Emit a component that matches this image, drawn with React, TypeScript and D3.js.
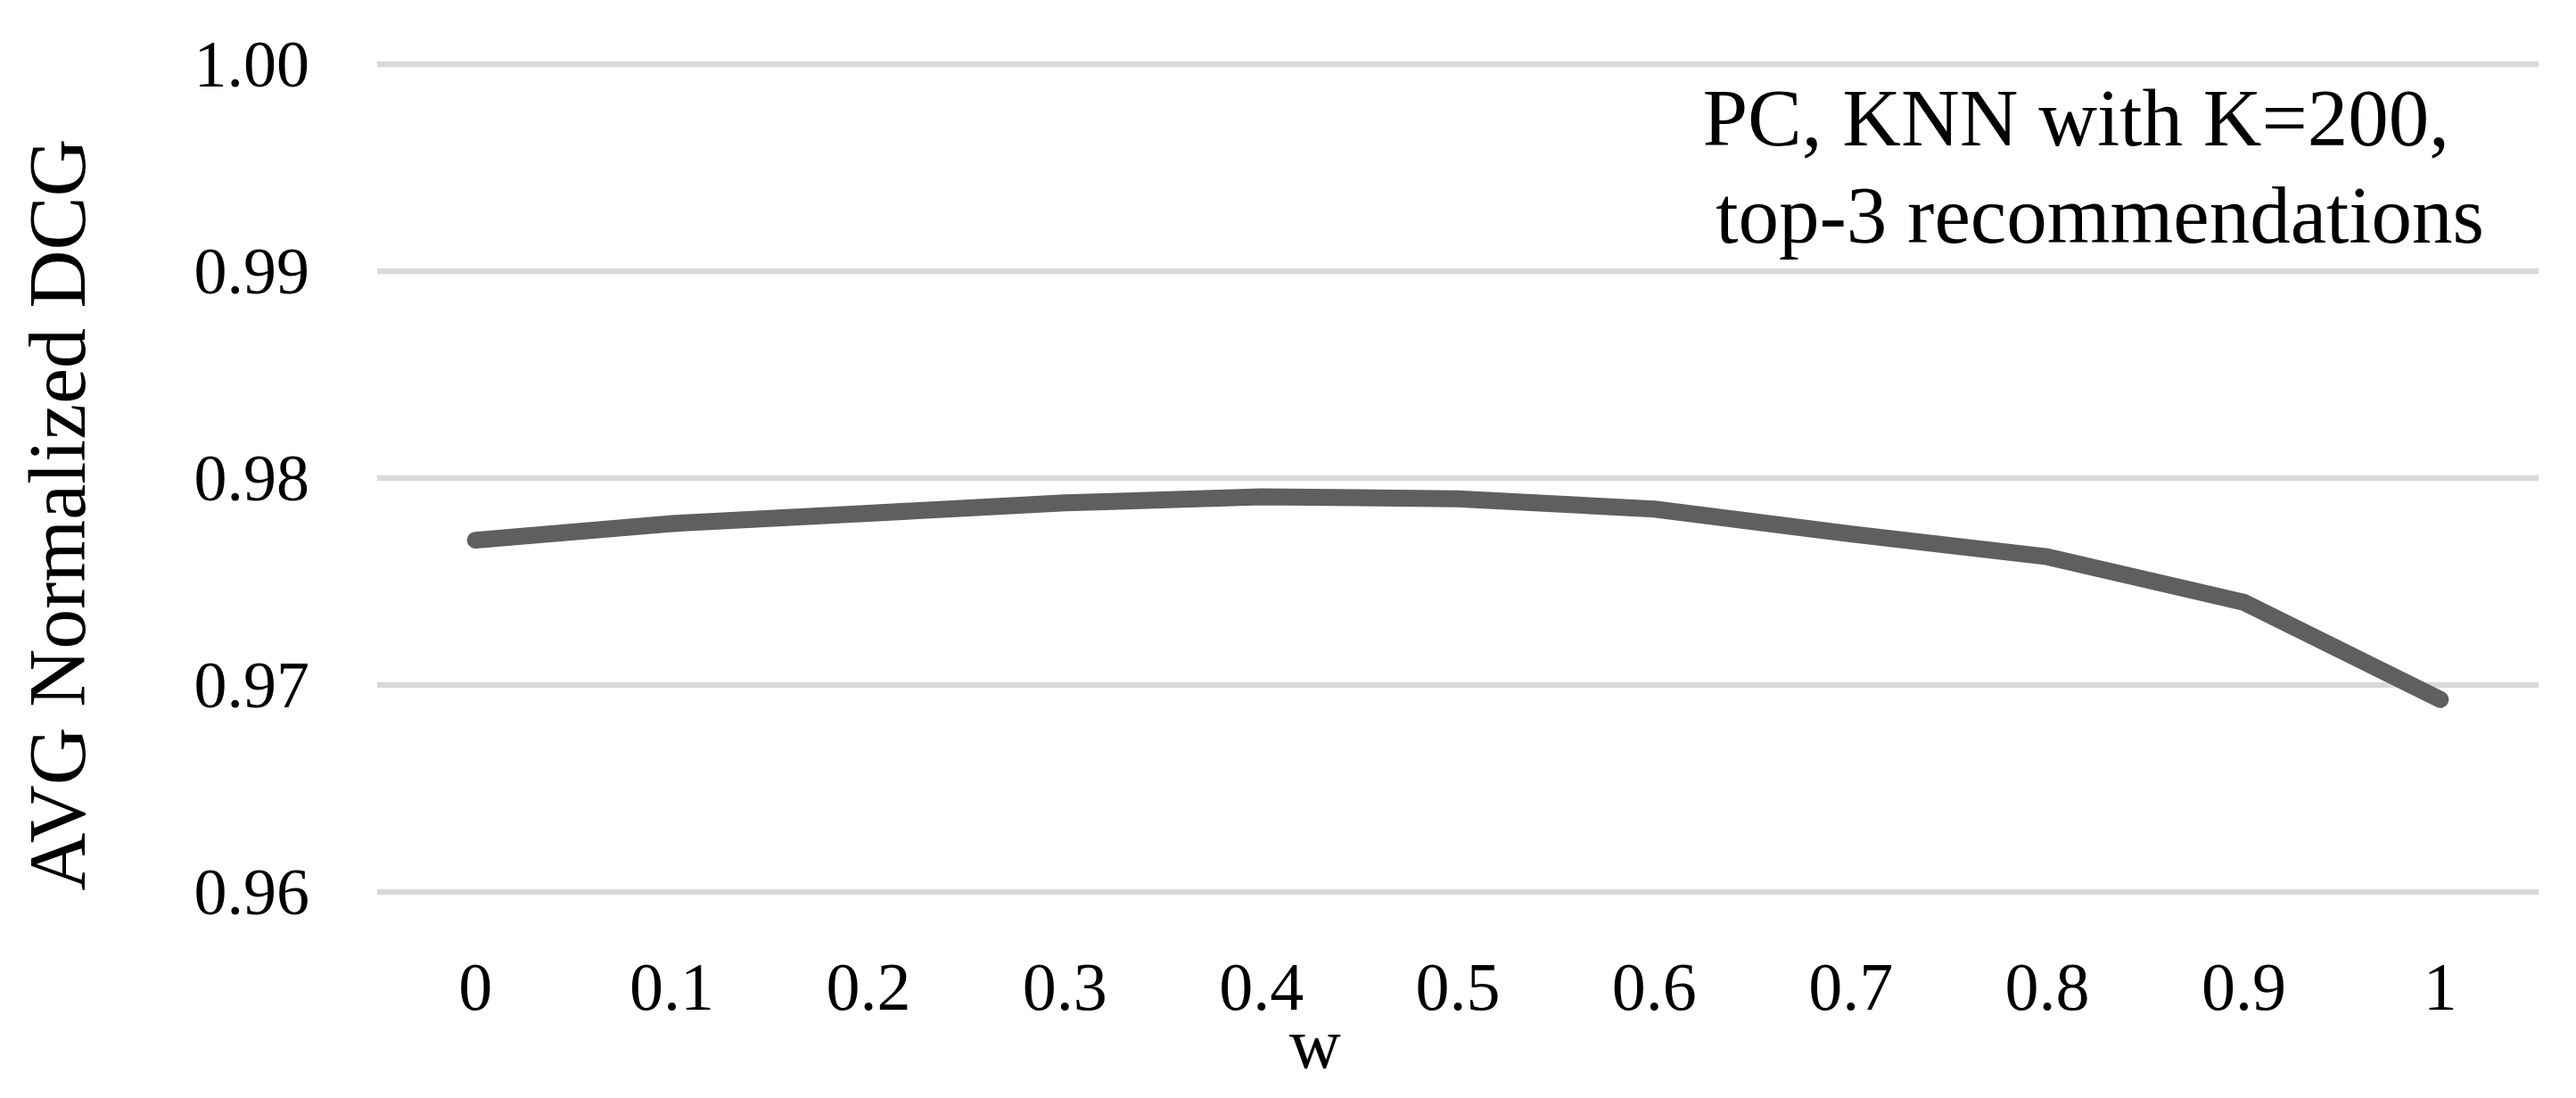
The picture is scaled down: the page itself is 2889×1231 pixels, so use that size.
import React from "react";
import * as d3 from "d3";

const categories = ["0", "0.1", "0.2", "0.3", "0.4", "0.5", "0.6", "0.7", "0.8", "0.9", "1"];
const ndcg = [0.977, 0.9778, 0.9783, 0.9788, 0.9791, 0.979, 0.9785, 0.9773, 0.9762, 0.974, 0.9693];
const yTicks = [0.96, 0.97, 0.98, 0.99, 1.0];
const yTitle = "AVG Normalized DCG";
const xTitle = "w";
const noteLines = ["PC, KNN with K=200,", "top-3 recommendations"];

const W = 2889;
const H = 1231;
const FONT = "'Liberation Serif', 'Times New Roman', serif";

export default function App() {
  const plotLeft = 423;
  const plotRight = 2847;
  const x = d3.scalePoint<string>().domain(categories).range([plotLeft, plotRight]).padding(0.5);
  const y = d3.scaleLinear().domain([0.96, 1.0]).range([1000, 72]);
  const line = d3
    .line<number>()
    .x((_, i) => x(categories[i]) as number)
    .y((d) => y(d));

  return (
    <svg
      width={W}
      height={H}
      viewBox={`0 0 ${W} ${H}`}
      style={{ position: "absolute", left: 0, top: 0, background: "#fff" }}
    >
      <rect x={0} y={0} width={W} height={H} fill="#fff" />
      {yTicks.map((t) => (
        <g key={t}>
          <line x1={plotLeft} x2={plotRight} y1={y(t)} y2={y(t)} stroke="#d9d9d9" strokeWidth={6.5} />
          <text
            x={347}
            y={y(t)}
            dy="0.34em"
            textAnchor="end"
            fontFamily={FONT}
            fontSize={74}
            fill="#000"
          >
            {d3.format(".2f")(t)}
          </text>
        </g>
      ))}
      <path
        d={line(ndcg) as string}
        fill="none"
        stroke="#5f5f5f"
        strokeWidth={19}
        strokeLinecap="round"
        strokeLinejoin="round"
      />
      {categories.map((c) => (
        <text
          key={c}
          x={x(c) as number}
          y={1132}
          textAnchor="middle"
          fontFamily={FONT}
          fontSize={76}
          fill="#000"
        >
          {c}
        </text>
      ))}
      <text x={1475} y={1197} textAnchor="middle" fontFamily={FONT} fontSize={80} fill="#000">
        {xTitle}
      </text>
      <text
        transform="translate(95,577) rotate(-90)"
        textAnchor="middle"
        fontFamily={FONT}
        fontSize={90}
        fill="#000"
      >
        {yTitle}
      </text>
      {noteLines.map((s, i) => (
        <text
          key={s}
          x={i === 0 ? 2747 : 2786}
          y={i === 0 ? 163 : 272}
          textAnchor="end"
          fontFamily={FONT}
          fontSize={91}
          fill="#000"
        >
          {s}
        </text>
      ))}
    </svg>
  );
}
